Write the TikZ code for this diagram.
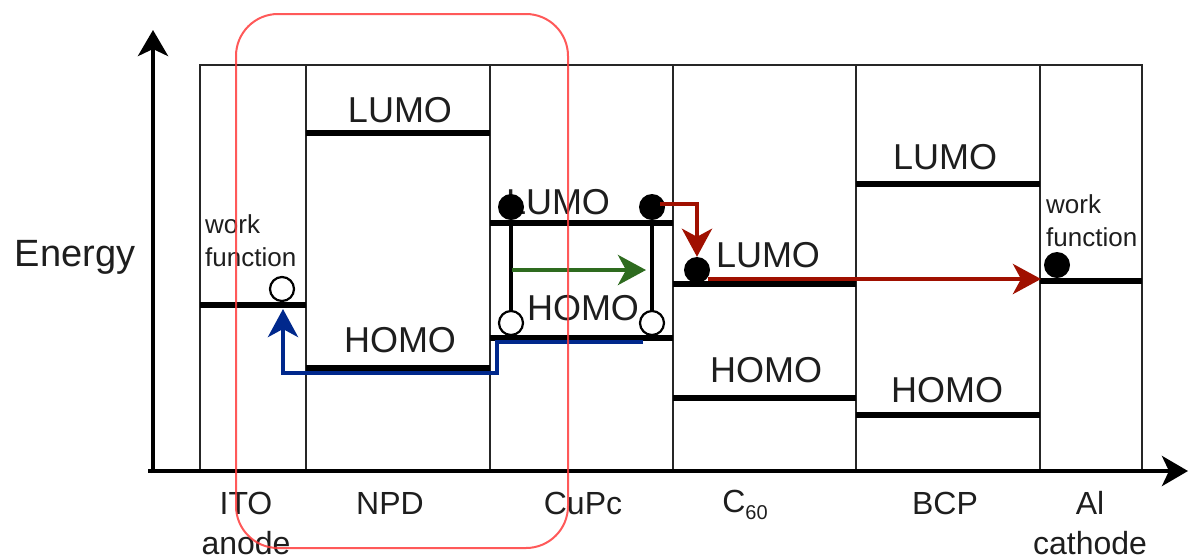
\documentclass[tikz,border=0pt]{standalone}
\usepackage{fontspec}
\setmainfont{Liberation Sans}
\usetikzlibrary{arrows.meta}
\definecolor{myred}{RGB}{160,16,0}
\definecolor{myblue}{RGB}{0,40,140}
\definecolor{mygreen}{RGB}{46,107,31}
\definecolor{boxred}{RGB}{255,60,60}
\definecolor{txt}{RGB}{30,30,30}
\begin{document}
\begin{tikzpicture}[x=1pt,y=-1pt,
  level/.style={line width=6pt},
  frame/.style={line width=2.2pt, draw=black!85},
  axis/.style={line width=4.5pt, -{Stealth[length=26pt,width=30pt,inset=7pt]}},
  lbl/.style={font=\fontsize{36}{40}\selectfont, inner sep=0pt, text=txt},
  small/.style={font=\fontsize{26}{33}\selectfont, align=left, inner sep=0pt, text=txt},
  bot/.style={font=\fontsize{32}{40}\selectfont, align=center, inner sep=0pt, text=txt},
  hole/.style={circle, draw, line width=2.2pt, fill=white, minimum size=24pt, inner sep=0pt},
  elec/.style={circle, fill=black, minimum size=26pt, inner sep=0pt},
  tip/.style={line width=4.5pt, -{Stealth[length=28pt,width=30pt,inset=8pt]}},
  ]
\useasboundingbox (0,0) rectangle (1189,558);

% frame
\draw[frame] (200,471) -- (200,65) -- (1142,65) -- (1142,471);
\foreach \x in {306,490,673,856,1040} \draw[frame] (\x,65) -- (\x,471);

% axes
\draw[axis] (153,473) -- (153,30);
\draw[axis] (148,471) -- (1188,471);

% levels
\draw[level] (200,305) -- (306,305);
\draw[level] (306,133) -- (490,133);
\draw[level] (306,368) -- (490,368);
\draw[level] (490,223) -- (673,223);
\draw[level] (490,338) -- (673,338);
\draw[level] (673,284) -- (856,284);
\draw[level] (673,398) -- (856,398);
\draw[level] (856,184) -- (1040,184);
\draw[level] (856,415) -- (1040,415);
\draw[level] (1040,281) -- (1142,281);

% level labels
\node[lbl] (npdL) at (400,110) {LUMO};
\node[lbl] (npdH) at (400,340) {HOMO};
\node[lbl] (cupcL) at (558,202) {LUMO};
\node[lbl] (cupcH) at (583,308) {HOMO};
\node[lbl] (c60L) at (768,255) {LUMO};
\node[lbl] (c60H) at (766,370) {HOMO};
\node[lbl] (bcpL) at (945,157) {LUMO};
\node[lbl] (bcpH) at (947,390) {HOMO};
\node[small, anchor=west] (itoWF) at (205,241) {work\\function};
\node[small, anchor=west] (alWF) at (1046,221) {work\\function};

% carriers
\node[hole] (hITO) at (282,289) {};
\node[elec] (e1) at (511,207) {};
\node[elec] (e2) at (652,207) {};
\node[hole] (h1) at (511,323) {};
\node[hole] (h2) at (652,323) {};
\draw[line width=3.5pt] (e1) -- (h1);
\draw[line width=3.5pt] (e2) -- (h2);
\node[elec] (e3) at (697,270) {};
\node[elec] (e4) at (1057,265) {};

% arrows
\coordinate (gS) at (512,270);
\coordinate (gE) at (646,270);
\draw[tip, mygreen] (gS) -- (gE);

\coordinate (r1S) at (660,204);
\draw[tip, myred] (r1S) -| (e3.north);
\coordinate (r2S) at (708,279);
\coordinate (r2E) at (1041,279);
\draw[tip, myred] (r2S) -- (r2E);

\coordinate (bS) at (643,342);
\coordinate (bE) at (283,309);
\draw[tip, myblue] (bS) -- (497,342) -- (497,373) -- (283,373) -- (bE);

% energy label
\node[font=\fontsize{38}{42}\selectfont, inner sep=0pt, text=txt] (energy) at (75,257) {Energy};

% bottom labels
\node[bot] (ito) at (246,523) {ITO\\anode};
\node[bot] (npd) at (390,503) {NPD};
\node[bot] (cupc) at (583,503) {CuPc};
\node[bot] (c60) at (745,505) {C\raisebox{-0.22em}{\fontsize{20}{20}\selectfont 60}};
\node[bot] (bcp) at (945,503) {BCP};
\node[bot] (al) at (1090,523) {Al\\cathode};

% highlight box
\draw[boxred, line width=2pt, opacity=0.85, rounded corners=42pt] (236,14) rectangle (568,548);
\end{tikzpicture}
\end{document}
